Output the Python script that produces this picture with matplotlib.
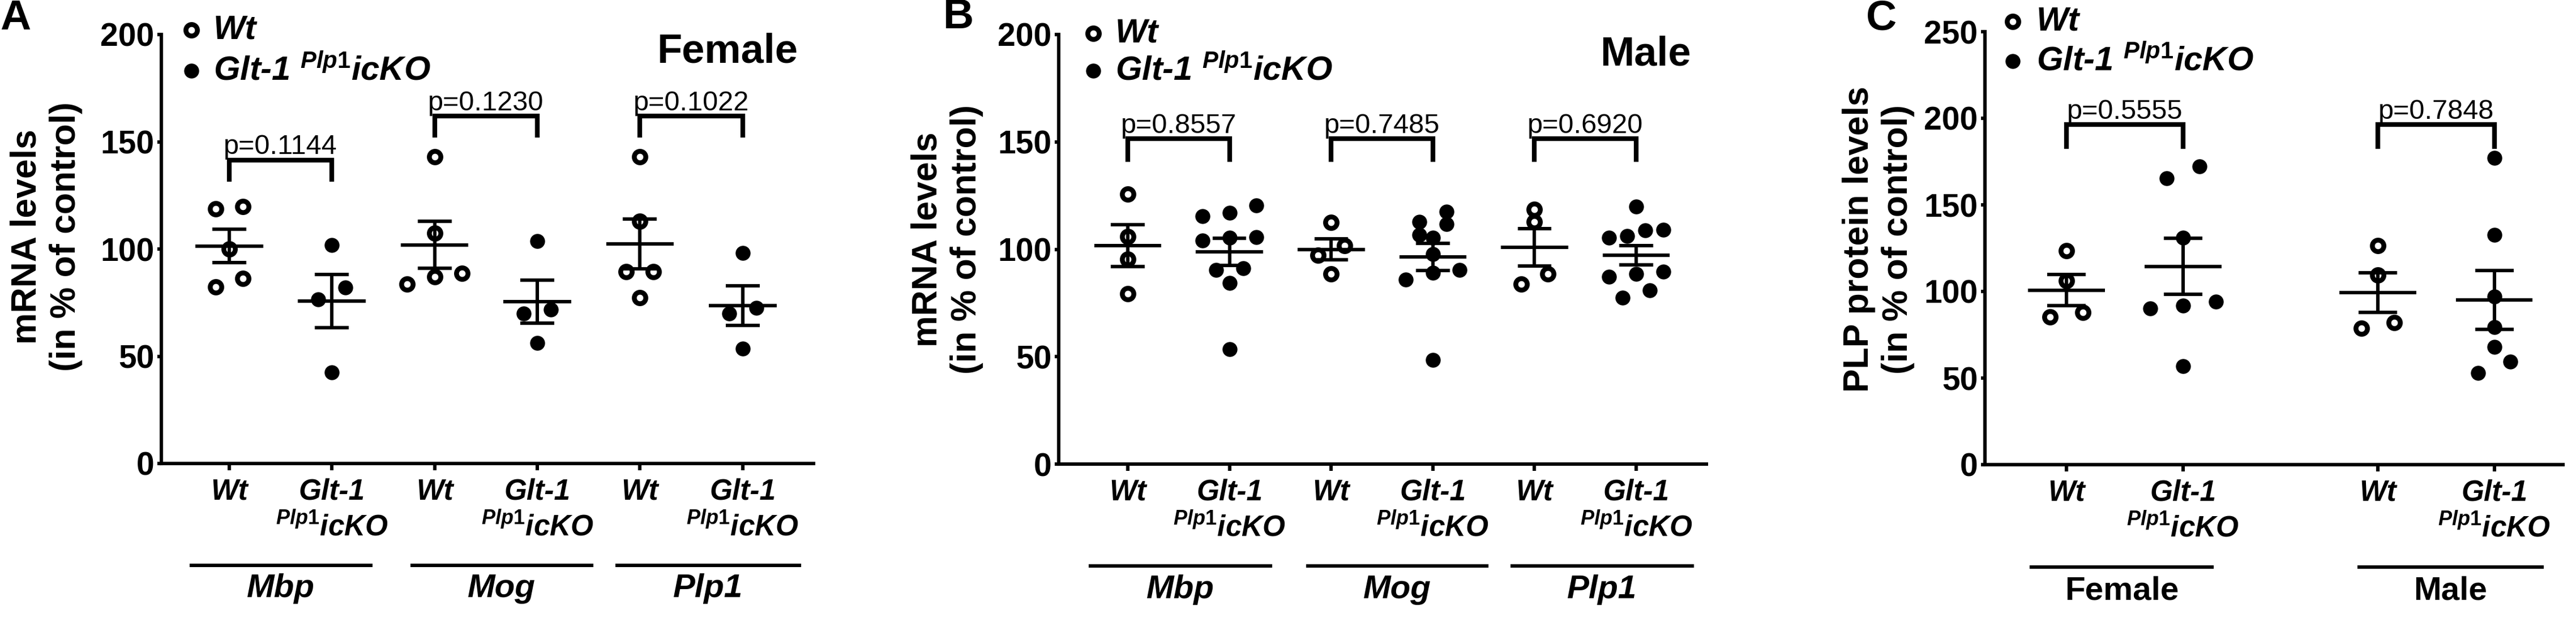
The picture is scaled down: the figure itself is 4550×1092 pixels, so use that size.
import numpy as np
import matplotlib
matplotlib.use('Agg')
import matplotlib.pyplot as plt

plt.rcParams['font.family'] = ['Liberation Sans', 'DejaVu Sans']
plt.rcParams['mathtext.fontset'] = 'custom'
plt.rcParams['mathtext.it'] = 'Liberation Sans:italic:bold'
plt.rcParams['mathtext.rm'] = 'Liberation Sans:bold'
plt.rcParams['mathtext.bf'] = 'Liberation Sans:bold'

W, H = 4550, 1092

# ---- data ----
genes = ['Mbp', 'Mog', 'Plp1']
# A: female mRNA, % of control
a_wt = [[119.7, 118.8, 100.0, 86.3, 82.3],
        [142.9, 107.3, 88.7, 87.2, 83.6],
        [142.9, 112.8, 89.4, 89.4, 77.2]]
a_ko = [[101.8, 82.1, 76.6, 42.5],
        [103.6, 71.7, 69.9, 56.2],
        [98.2, 72.6, 69.9, 53.5]]
a_p = ['0.1144', '0.1230', '0.1022']
a_bracket = [141.5, 162, 162]

# B: male mRNA
b_wt = [[125.8, 106.0, 95.5, 79.4],
        [112.5, 101.7, 97.3, 88.5],
        [118.6, 112.9, 88.5, 83.9]]
b_ko = [[120.5, 116.9, 115.4, 105.7, 105.5, 104.0, 91.3, 90.5, 84.3, 53.4],
        [117.6, 112.8, 111.6, 106.6, 105.3, 97.8, 90.3, 89.0, 85.8, 48.4],
        [119.9, 109.1, 108.7, 106.1, 105.4, 89.6, 88.5, 87.1, 81.0, 77.5]]
b_p = ['0.8557', '0.7485', '0.6920']
b_bracket = [151.5, 151.5, 151.5]

# C: PLP protein
sexes = ['Female', 'Male']
c_wt = [[123.6, 106.1, 87.9, 85.4],
        [126.6, 109.5, 82.0, 78.8]]
c_ko = [[172.1, 165.3, 130.9, 94.0, 91.8, 90.2, 56.9],
        [177.1, 132.7, 97.0, 79.5, 67.9, 59.4, 53.0]]
c_p = ['0.5555', '0.7848']
c_bracket = [196.5, 196.5]

KO_TICK = 'Glt-1\n$^{\\mathit{Plp1}}$icKO'
KO_LEG = 'Glt-1 $^{\\mathit{Plp1}}$icKO'

LW = 4.4
OPEN = dict(marker='o', ms=14.6, mfc='white', mec='k', mew=6.2, ls='none')
FILL = dict(marker='o', ms=18, color='k', ls='none')


def px_axes(fig, left, right, top, bottom):
    return fig.add_axes([left / W, 1 - bottom / H, (right - left) / W, (bottom - top) / H])


def swarm(vals, d, thr):
    # GraphPad-like rows: values closer than thr share a row, centred on the column
    vals = np.asarray(vals, float)
    order = np.argsort(-vals, kind='stable')
    rows = []
    for i in order:
        if rows and vals[rows[-1][0]] - vals[i] <= thr:
            rows[-1].append(i)
        else:
            rows.append([i])
    offs = np.zeros(len(vals))
    for r in rows:
        n = len(r)
        step = d if n <= 3 else 2 * d / (n - 1)
        r = sorted(r, key=lambda i: vals[i])
        for k, i in enumerate(r):
            offs[i] = (k - (n - 1) / 2) * step
    return offs


def draw_group(ax, x, vals, is_open, d, thr):
    vals = np.asarray(vals, float)
    offs = swarm(vals, d, thr)
    style = OPEN if is_open else FILL
    ax.plot(x + offs, vals, zorder=3, clip_on=False, **style)
    m = vals.mean()
    s = vals.std(ddof=1) / np.sqrt(len(vals))
    ax.hlines(m, x - 0.33, x + 0.33, color='k', lw=LW, zorder=4)
    ax.vlines(x, m - s, m + s, color='k', lw=LW, zorder=4)
    ax.hlines([m - s, m + s], x - 0.165, x + 0.165, color='k', lw=LW, zorder=4)


def bracket(ax, x1, x2, y, drop, ptxt, gap):
    ax.plot([x1, x1, x2, x2], [y - drop, y, y, y - drop], color='k', lw=6,
            solid_joinstyle='miter', solid_capstyle='butt', zorder=4, clip_on=False)
    ax.text((x1 + x2) / 2, y + gap, 'p=' + ptxt, ha='center', va='baseline', fontsize=35)


def style_axes(ax, xpos, xlabels, ylim, yticks):
    for sp in ['top', 'right']:
        ax.spines[sp].set_visible(False)
    for sp in ['left', 'bottom']:
        ax.spines[sp].set_linewidth(LW)
    ax.set_ylim(*ylim)
    ax.set_yticks(yticks)
    ax.set_yticklabels([str(t) for t in yticks], fontsize=41, fontweight='bold')
    ax.set_xticks(xpos)
    ax.set_xticklabels(xlabels, fontsize=37, fontweight='bold', fontstyle='italic',
                       linespacing=1.3, va='top')
    ax.tick_params(axis='y', length=5, width=LW, pad=4)
    ax.tick_params(axis='x', length=8.5, width=LW, pad=10)


def group_lines(ax, spans, names, italic):
    tr = ax.get_xaxis_transform()
    for (x1, x2), name in zip(spans, names):
        ax.plot([x1, x2], [-0.237, -0.237], color='k', lw=LW, transform=tr, clip_on=False)
        ax.text((x1 + x2) / 2, -0.292, name, transform=tr, ha='center', va='center',
                fontsize=42, fontweight='bold', fontstyle='italic' if italic else 'normal')


fig = plt.figure(figsize=(W / 100, H / 100), dpi=100)
xs = np.arange(6)

# ---- panel A ----
axA = px_axes(fig, 285, 1437, 61, 819)
axA.set_xlim(-0.66, 5.69)
for g in range(3):
    draw_group(axA, xs[2 * g], a_wt[g], True, 0.265, 5.5)
    draw_group(axA, xs[2 * g + 1], a_ko[g], False, 0.265, 5.5)
    bracket(axA, xs[2 * g], xs[2 * g + 1], a_bracket[g], 10, a_p[g], 2.7)
style_axes(axA, xs, ['Wt', KO_TICK] * 3, (0, 200), [0, 50, 100, 150, 200])
group_lines(axA, [(xs[0] - 0.37, xs[1] + 0.38), (xs[2] - 0.22, xs[3] + 0.53),
                  (xs[4] - 0.22, xs[5] + 0.55)], genes, True)
axA.text(0.976, 0.96, 'Female', transform=axA.transAxes, ha='right', va='center',
         fontsize=52, fontweight='bold')

# ---- panel B ----
axB = px_axes(fig, 1870, 3014, 61, 820)
axB.set_xlim(-0.68, 5.69)
for g in range(3):
    draw_group(axB, xs[2 * g], b_wt[g], True, 0.265, 5.5)
    draw_group(axB, xs[2 * g + 1], b_ko[g], False, 0.265, 5.5)
    bracket(axB, xs[2 * g], xs[2 * g + 1], b_bracket[g], 10.7, b_p[g], 2.7)
style_axes(axB, xs, ['Wt', KO_TICK] * 3, (0, 200), [0, 50, 100, 150, 200])
group_lines(axB, [(xs[0] - 0.37, xs[1] + 0.40), (xs[2] - 0.23, xs[3] + 0.53),
                  (xs[4] - 0.22, xs[5] + 0.55)], genes, True)
axB.text(0.976, 0.953, 'Male', transform=axB.transAxes, ha='right', va='center',
         fontsize=52, fontweight='bold')

# ---- panel C ----
axC = px_axes(fig, 3506, 4527, 56, 821)
axC.set_xlim(-0.70, 4.26)
xc = np.array([0, 1, 2.67, 3.67])
for g in range(2):
    draw_group(axC, xc[2 * g], c_wt[g], True, 0.28, 6.9)
    draw_group(axC, xc[2 * g + 1], c_ko[g], False, 0.28, 6.9)
    bracket(axC, xc[2 * g], xc[2 * g + 1], c_bracket[g], 14, c_p[g], 3.3)
style_axes(axC, xc, ['Wt', KO_TICK] * 2, (0, 250), [0, 50, 100, 150, 200, 250])
group_lines(axC, [(xc[0] - 0.30, xc[1] + 0.25), (xc[2] - 0.16, xc[3] + 0.41)], sexes, False)

# ---- overlay: panel letters, y labels, legends (pixel coords) ----
ov = fig.add_axes([0, 0, 1, 1], facecolor='none')
ov.set_xlim(0, W)
ov.set_ylim(H, 0)
ov.axis('off')

for lx, ly, letter in [(27, 32, 'A'), (1693, 31, 'B'), (3323, 33, 'C')]:
    ov.text(lx, ly, letter, ha='center', va='center', fontsize=54, fontweight='bold')

for cx, cy, lab in [(82, 418, 'mRNA levels\n(in % of control)'),
                    (1673, 423, 'mRNA levels\n(in % of control)'),
                    (3318, 423, 'PLP protein levels\n(in % of control)')]:
    ov.text(cx, cy, lab, rotation=90, ha='center', va='center', fontsize=45,
            fontweight='bold', linespacing=1.22)

for mx, y1, y2, tx in [(338, 53, 125, 377), (1931, 59, 125, 1970), (3555, 38, 108, 3597)]:
    ov.plot([mx], [y1], **OPEN)
    ov.plot([mx], [y2], **FILL)
    ov.text(tx, y1, 'Wt', ha='left', va='center', fontsize=43, fontweight='bold',
            fontstyle='italic')
    ov.text(tx, y2, KO_LEG, ha='left', va='center', fontsize=43, fontweight='bold',
            fontstyle='italic')

fig.savefig('out.png', dpi=100, facecolor='white')
